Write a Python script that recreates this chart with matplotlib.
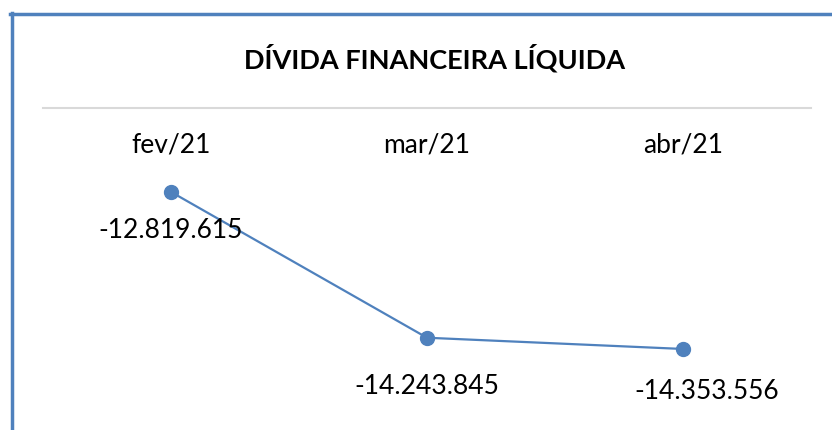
import matplotlib.pyplot as plt
from matplotlib.lines import Line2D

months = ["fev/21", "mar/21", "abr/21"]
divida = [-12819615, -14243845, -14353556]
rotulos = ["-12.819.615", "-14.243.845", "-14.353.556"]

W, H = 832, 430
blue = "#4F81BD"
plt.rcParams['font.family'] = ['Lato', 'DejaVu Sans']

fig = plt.figure(figsize=(W / 100, H / 100), dpi=100)

# plot area: x 43..811 px, y 108..430 px (from top)
ax = fig.add_axes([43 / W, 0, (811 - 43) / W, (430 - 108) / H])
ax.plot(range(len(months)), divida, color=blue, lw=1.6, marker="o", ms=10)
ax.set_xlim(-0.5, 2.5)
ax.set_ylim(-15.145e6, -12.0e6)
for s in ["left", "right", "bottom"]:
    ax.spines[s].set_visible(False)
ax.spines["top"].set_color("#d9d9d9")
ax.spines["top"].set_linewidth(1.5)
ax.set_xticks([])
ax.set_yticks([])

# category labels below the top axis line
for i, m in enumerate(months):
    ax.annotate(m, (i, 1), xycoords=("data", "axes fraction"), xytext=(0, -37),
                textcoords="offset pixels", ha="center", va="center", fontsize=19)

# data labels
offs = [(0, -39), (0, -49), (24, -43)]
for i, (v, t) in enumerate(zip(divida, rotulos)):
    ax.annotate(t, (i, v), xytext=offs[i], textcoords="offset pixels",
                ha="center", va="center", fontsize=19)

fig.text(435 / W, 1 - 58 / H, "DÍVIDA FINANCEIRA LÍQUIDA", ha="center", va="center",
         fontsize=19.5, fontweight="bold")

# chart border (left and top edges)
fig.add_artist(Line2D([11.5 / W, 11.5 / W], [0, 1 - 13 / H], color=blue, lw=2.5))
fig.add_artist(Line2D([10 / W, 1], [1 - 14 / H, 1 - 14 / H], color=blue, lw=2.5))

fig.savefig("out.png", dpi=100)
